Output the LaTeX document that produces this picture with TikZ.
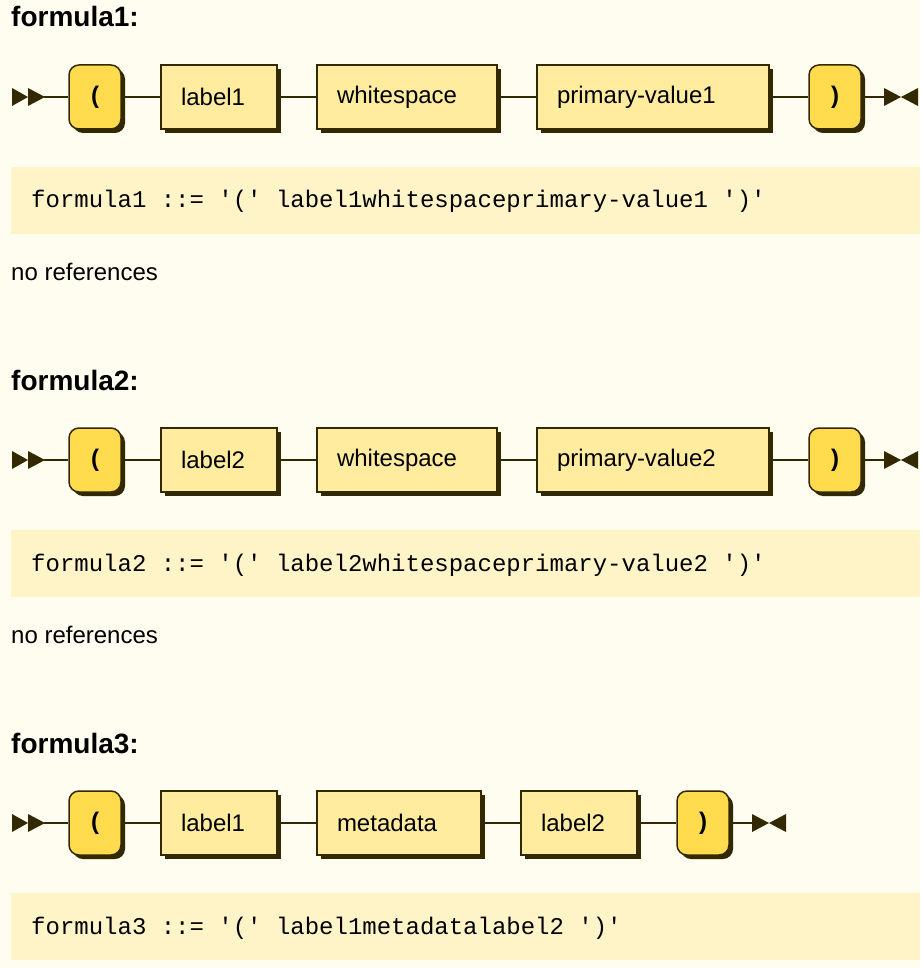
\documentclass[tikz,border=0pt]{standalone}
\usepackage{fontspec}
\setmainfont{Liberation Sans}
\setmonofont{Liberation Mono}
\usetikzlibrary{shadows}
\definecolor{rrbg}{HTML}{FFFCF0}
\definecolor{rrterm}{HTML}{FFDB4D}
\definecolor{rrnonterm}{HTML}{FFEC9E}
\definecolor{rrstroke}{HTML}{332900}
\definecolor{rrcode}{HTML}{FFF4C7}
\tikzset{
  x=1pt,y=-1pt,
  rrshadow/.style={drop shadow={shadow xshift=4pt,shadow yshift=-4pt,opacity=1,fill=rrstroke,draw=none}},
  termbox/.style={draw=rrstroke,fill=rrterm,line width=1.5pt,rounded corners=10pt,
    minimum width=52pt,minimum height=64pt,inner sep=0pt,rrshadow,
    font=\fontsize{24}{28}\selectfont\bfseries},
  ntbox/.style={draw=rrstroke,fill=rrnonterm,line width=1.5pt,
    minimum height=64pt,inner ysep=0pt,inner xsep=20pt,text width=#1pt-40pt,align=left,rrshadow,
    font=\fontsize{24}{28}\selectfont},
  wire/.style={draw=rrstroke,line width=1.5pt},
  tip/.style={fill=rrstroke,draw=none},
  title/.style={anchor=base west,inner sep=0pt,font=\fontsize{28}{32}\selectfont\bfseries},
  codetext/.style={anchor=base west,inner sep=0pt,font=\fontsize{24}{28}\selectfont\ttfamily},
  plaintext/.style={anchor=base west,inner sep=0pt,font=\fontsize{24}{28}\selectfont},
  codebg/.style={fill=rrcode,draw=none}
}
\begin{document}
\begin{tikzpicture}
\fill[rrbg] (0,0) rectangle (920,968);
\useasboundingbox (0,0) rectangle (920,968);

% ---------- formula1 & formula2 ----------
\foreach \i/\off/\lab/\pv in {1/0/label1/primary-value1, 2/363/label2/primary-value2}{
  \node[title] (t\i) at (11,27+\off) {formula\i:};
  \node[termbox] (o\i) at (95,97+\off) {(};
  \node[ntbox=116] (l\i) at (219,97+\off) {\lab};
  \node[ntbox=180] (w\i) at (407,97+\off) {whitespace};
  \node[ntbox=232] (p\i) at (653,97+\off) {\pv};
  \node[termbox] (c\i) at (835,97+\off) {)};
  \coordinate (s\i) at (44,97+\off);
  \coordinate (e\i) at (884,97+\off);
  \fill[tip] (12,88+\off) -- (28,97+\off) -- (12,106+\off) -- cycle;
  \fill[tip] (28,88+\off) -- (45,97+\off) -- (28,106+\off) -- cycle;
  \fill[tip] (884,88+\off) -- (901,97+\off) -- (884,106+\off) -- cycle;
  \fill[tip] (918,88+\off) -- (901,97+\off) -- (918,106+\off) -- cycle;
  \draw[wire] (s\i) -- (o\i.west);
  \draw[wire] (o\i.east) -- (l\i.west);
  \draw[wire] (l\i.east) -- (w\i.west);
  \draw[wire] (w\i.east) -- (p\i.west);
  \draw[wire] (p\i.east) -- (c\i.west);
  \draw[wire] (c\i.east) -- (e\i);
  \fill[codebg] (11,167+\off) rectangle (920,234+\off);
  \node[codetext] (k\i) at (31,208+\off) {formula\i{} ::= '(' \lab whitespace\pv{} ')'};
  \node[plaintext] (n\i) at (11,280+\off) {no references};
}

% ---------- formula3 ----------
\node[title] (t3) at (11,753) {formula3:};
\node[termbox] (o3) at (95,823) {(};
\node[ntbox=116] (l3) at (219,823) {label1};
\node[ntbox=164] (m3) at (399,823) {metadata};
\node[ntbox=116] (q3) at (579,823) {label2};
\node[termbox] (c3) at (703,823) {)};
\coordinate (s3) at (44,823);
\coordinate (e3) at (752,823);
\fill[tip] (12,814) -- (28,823) -- (12,832) -- cycle;
\fill[tip] (28,814) -- (45,823) -- (28,832) -- cycle;
\fill[tip] (752,814) -- (769,823) -- (752,832) -- cycle;
\fill[tip] (786,814) -- (769,823) -- (786,832) -- cycle;
\draw[wire] (s3) -- (o3.west);
\draw[wire] (o3.east) -- (l3.west);
\draw[wire] (l3.east) -- (m3.west);
\draw[wire] (m3.east) -- (q3.west);
\draw[wire] (q3.east) -- (c3.west);
\draw[wire] (c3.east) -- (e3);
\fill[codebg] (11,893) rectangle (920,960);
\node[codetext] (k3) at (31,934) {formula3 ::= '(' label1metadatalabel2 ')'};
\end{tikzpicture}
\end{document}
